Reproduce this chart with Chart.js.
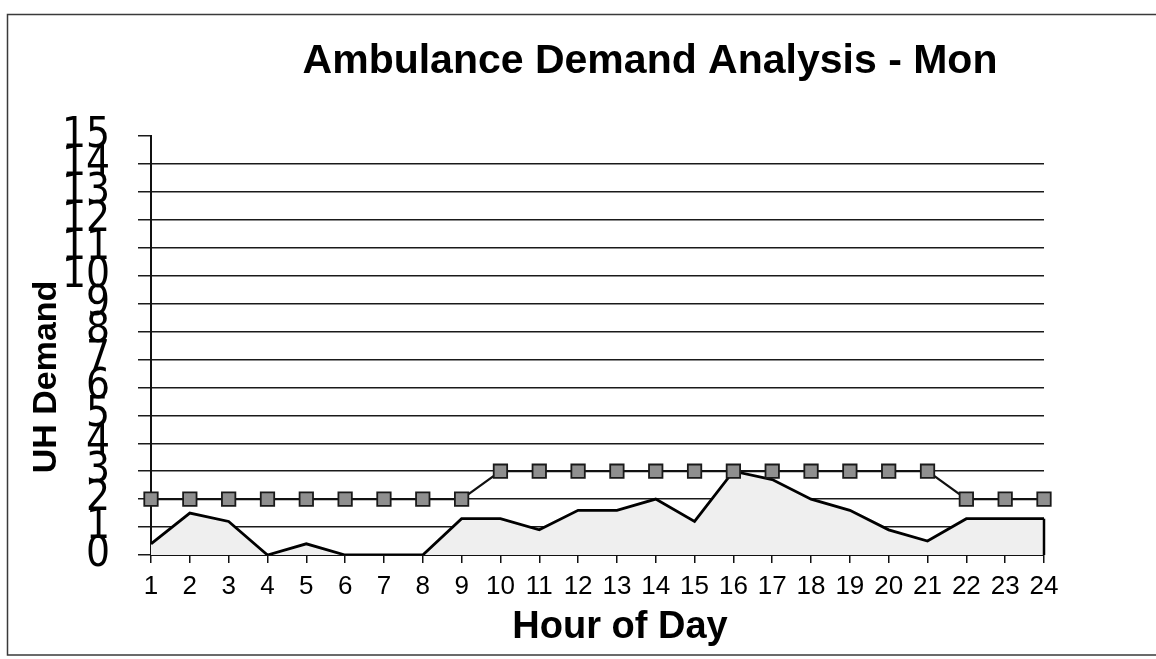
<!DOCTYPE html>
<html>
<head>
<meta charset="utf-8">
<script src="https://cdn.jsdelivr.net/npm/chart.js@4/dist/chart.umd.min.js"></script>
<style>
html,body{margin:0;padding:0;background:#fff;}
canvas{display:block;}
</style>
</head>
<body>
<canvas id="c" width="1156" height="659"></canvas>
<script>
// ---- data ----
const hours = ['1','2','3','4','5','6','7','8','9','10','11','12','13','14','15','16','17','18','19','20','21','22','23','24'];
const demand = [0.4, 1.5, 1.2, 0, 0.4, 0, 0, 0, 1.3, 1.3, 0.9, 1.6, 1.6, 2.0, 1.2, 3.0, 2.7, 2.0, 1.6, 0.9, 0.5, 1.3, 1.3, 1.3];
const capacity = [2, 2, 2, 2, 2, 2, 2, 2, 2, 3, 3, 3, 3, 3, 3, 3, 3, 3, 3, 3, 3, 2, 2, 2];
const yMin = 0;
const yMax = 15;
const chartTitle = 'Ambulance Demand Analysis - Mon';
const xTitle = 'Hour of Day';
const yTitle = 'UH Demand';

const SANS = "'Liberation Sans', Arial, Helvetica, sans-serif";
const NARROW = "'Liberation Sans Narrow', 'DejaVu Sans Condensed', 'Liberation Sans', Arial, sans-serif";

const decor = {
  id: 'decor',
  beforeDraw(chart) {
    const ctx = chart.ctx;
    ctx.save();
    ctx.fillStyle = '#fff';
    ctx.fillRect(0, 0, chart.width, chart.height);
    ctx.strokeStyle = '#3a3a3a';
    ctx.lineWidth = 1.5;
    ctx.strokeRect(7.5, 14.5, 1170, 640.5);
    ctx.restore();
  },
  afterDatasetsDraw(chart) {
    // closing edge of the area at the last category
    const ctx = chart.ctx;
    const xs = chart.scales.x, ys = chart.scales.y;
    const last = demand.length - 1;
    const px = xs.getPixelForValue(last);
    ctx.save();
    ctx.strokeStyle = '#000';
    ctx.lineWidth = 2.5;
    ctx.beginPath();
    ctx.moveTo(px, ys.getPixelForValue(demand[last]));
    ctx.lineTo(px, ys.getPixelForValue(0));
    ctx.stroke();
    ctx.restore();
  },
  afterDraw(chart) {
    const ctx = chart.ctx;
    ctx.save();
    ctx.fillStyle = '#000';
    ctx.textAlign = 'center';
    ctx.textBaseline = 'alphabetic';
    ctx.font = "bold 41px " + SANS;
    ctx.fillText(chartTitle, 650, 73);
    ctx.font = "bold 38px " + SANS;
    ctx.fillText(xTitle, 620, 638);
    ctx.translate(56, 377);
    ctx.rotate(-Math.PI / 2);
    ctx.font = "bold 34px " + SANS;
    ctx.fillText(yTitle, 0, 0);
    ctx.restore();
  }
};

new Chart(document.getElementById('c'), {
  type: 'line',
  data: {
    labels: hours,
    datasets: [
      {
        label: 'Capacity',
        data: capacity,
        borderColor: '#111',
        borderWidth: 2.2,
        pointStyle: 'rect',
        pointRadius: 9.5,
        pointBackgroundColor: '#8f8f8f',
        pointBorderColor: '#1a1a1a',
        pointBorderWidth: 1.8,
        fill: false,
        tension: 0,
        order: 0
      },
      {
        label: 'Demand',
        data: demand,
        borderColor: '#000',
        borderWidth: 2.8,
        backgroundColor: '#efefef',
        fill: 'origin',
        pointRadius: 0,
        tension: 0,
        order: 1
      }
    ]
  },
  options: {
    responsive: false,
    animation: false,
    devicePixelRatio: 1,
    layout: { padding: { top: 136, left: 0, right: 112, bottom: 0 } },
    plugins: {
      legend: { display: false },
      title: { display: false },
      tooltip: { enabled: false }
    },
    scales: {
      x: {
        offset: false,
        grid: { drawOnChartArea: false, drawTicks: true, tickLength: 8, color: '#111', lineWidth: 1.5 },
        border: { color: '#111', width: 2 },
        ticks: { font: { family: SANS, size: 26 }, color: '#000', padding: 8, maxRotation: 0, autoSkip: false },
        afterFit(s) { s.height = 104; }
      },
      y: {
        min: yMin,
        max: yMax,
        ticks: { stepSize: 1, autoSkip: false, font: { family: NARROW, size: 42 }, color: '#000', padding: 28 },
        grid: {
          color: (c) => (c.tick && c.tick.value === yMax) ? 'rgba(0,0,0,0)' : '#1a1a1a',
          tickColor: '#1a1a1a',
          lineWidth: 1.5,
          tickLength: 13
        },
        border: { color: '#111', width: 2 },
        afterFit(s) { s.width = 151; }
      }
    }
  },
  plugins: [decor]
});
</script>
</body>
</html>
